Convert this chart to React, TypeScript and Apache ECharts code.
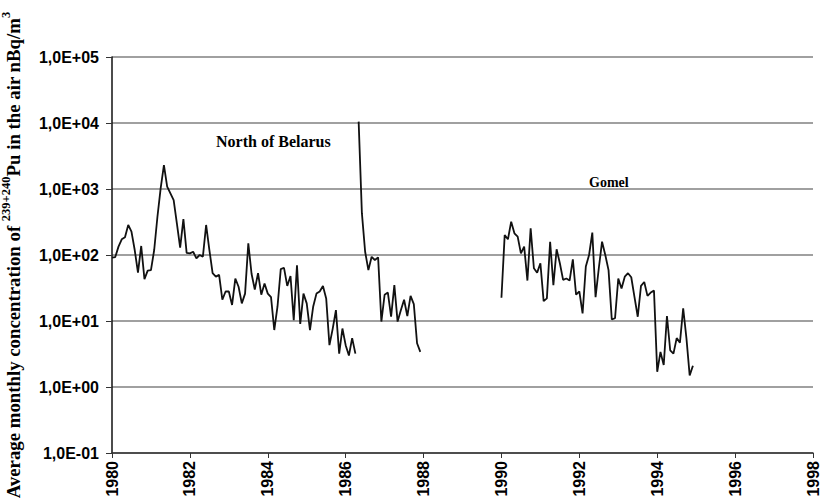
import React, { useEffect, useRef } from "react";
import * as echarts from "echarts";

// Monthly values, index 0 = January of start year/month
const BASE_YEAR = 1980;
const xTicks = [1980, 1982, 1984, 1986, 1988, 1990, 1992, 1994, 1996, 1998];
const yTicks = [0.1, 1, 10, 100, 1000, 10000, 100000];

// North of Belarus, Jan 1980 – Apr 1986
const northStartMonth = 0;
const northValues = [
  91, 93, 134, 173, 186, 285, 226, 119, 54, 137, 43, 58,
  59, 119, 380, 1030, 2300, 1090, 860, 680, 300, 129, 350, 108,
  106, 112, 89, 100, 94, 285, 120, 53, 47, 50, 21, 28,
  28, 17.5, 44, 33, 18.5, 26, 150, 52, 30, 53, 25, 37,
  26, 23, 7.3, 16.6, 61, 64, 34, 48, 10.3, 70, 9, 26,
  18.5, 7.3, 16.6, 26, 28, 34, 22, 4.3, 7.6, 14.6, 3.2, 7.7,
  4.3, 3.0, 5.5, 3.2,
];

// North of Belarus, May 1986 – Dec 1987
const northPostStartMonth = 76;
const northPostValues = [
  10500, 430, 112, 59, 94, 84, 92, 9.8, 25, 27,
  11.6, 35, 9.8, 14.6, 21, 11.9, 24, 18, 4.6, 3.4,
];

// Gomel, Jan 1990 – Dec 1994
const gomelStartMonth = 120;
const gomelValues = [
  22.5, 200, 173, 320, 213, 190, 106, 134, 41, 254, 63, 54,
  75, 20, 22, 159, 35, 122, 75, 42, 44, 41, 86, 25,
  28, 13, 67, 100, 218, 23, 63, 159, 100, 59, 10.6, 11,
  44, 31, 47, 53, 46, 23, 11.6, 34, 39, 24, 27, 29,
  1.7, 3.4, 2.15, 11.9, 3.6, 3.2, 5.5, 4.7, 15.6, 5.5, 1.5, 2.1,
];

const toPoints = (start: number, vals: number[]) =>
  vals.map((v, i) => [BASE_YEAR + (start + i) / 12, v]);

const fmtY = (v: number) => {
  const e = Math.round(Math.log10(v));
  return "1,0E" + (e < 0 ? "-" : "+") + String(Math.abs(e)).padStart(2, "0");
};

export default function App() {
  const ref = useRef<HTMLDivElement>(null);
  useEffect(() => {
    if (!ref.current) return;
    const chart = echarts.init(ref.current, null, { renderer: "svg" });
    const lineStyle = { color: "#111", width: 1.8 };
    const labelFont = {
      fontFamily: "Liberation Sans",
      fontWeight: "bold" as const,
      fontSize: 16,
      color: "#000",
    };
    chart.setOption({
      animation: false,
      backgroundColor: "#fff",
      grid: {
        left: 112,
        right: 17,
        top: 57,
        bottom: 50,
        containLabel: false,
        outerBoundsMode: "none",
      },
      xAxis: {
        type: "value",
        min: xTicks[0],
        max: xTicks[xTicks.length - 1],
        interval: 2,
        axisLine: { show: true, lineStyle: { color: "#333", width: 1.5 } },
        axisTick: { show: true, length: 5, lineStyle: { color: "#333", width: 1 } },
        splitLine: { show: false },
        axisLabel: {
          ...labelFont,
          rotate: 90,
          margin: 8,
          formatter: (v: number) => String(v),
        },
      },
      yAxis: {
        type: "log",
        logBase: 10,
        min: yTicks[0],
        max: yTicks[yTicks.length - 1],
        axisLine: { show: true, lineStyle: { color: "#111", width: 1.5 } },
        axisTick: { show: true, length: 6, lineStyle: { color: "#333", width: 1 } },
        minorTick: { show: false },
        splitLine: { show: true, lineStyle: { color: "#808080", width: 1.5 } },
        axisLabel: { ...labelFont, margin: 13, formatter: fmtY },
        name: "{b|Average monthly concentration of }{s|239+240}{b|Pu in the air nBq/m}{s|3}",
        nameLocation: "middle",
        nameGap: 89,
        nameRotate: 90,
        nameTextStyle: {
          rich: {
            b: {
              fontFamily: "Liberation Serif",
              fontWeight: "bold",
              fontSize: 18.8,
              lineHeight: 24,
              verticalAlign: "bottom",
              color: "#000",
            },
            s: {
              fontFamily: "Liberation Serif",
              fontWeight: "bold",
              fontSize: 12.5,
              lineHeight: 12,
              verticalAlign: "top",
              color: "#000",
            },
          },
        },
      },
      series: [
        {
          name: "North of Belarus",
          type: "line",
          data: toPoints(northStartMonth, northValues),
          showSymbol: false,
          symbol: "none",
          lineStyle,
        },
        {
          name: "North of Belarus (after 1986)",
          type: "line",
          data: toPoints(northPostStartMonth, northPostValues),
          showSymbol: false,
          symbol: "none",
          lineStyle,
        },
        {
          name: "Gomel",
          type: "line",
          data: toPoints(gomelStartMonth, gomelValues),
          showSymbol: false,
          symbol: "none",
          lineStyle,
        },
      ],
      graphic: [
        {
          type: "text",
          left: 216,
          top: 133,
          style: {
            text: "North of Belarus",
            fontFamily: "Liberation Serif",
            fontWeight: "bold",
            fontSize: 16,
            fill: "#000",
          },
        },
        {
          type: "text",
          left: 589,
          top: 175,
          style: {
            text: "Gomel",
            fontFamily: "Liberation Serif",
            fontWeight: "bold",
            fontSize: 14,
            fill: "#000",
          },
        },
      ],
    });
    return () => chart.dispose();
  }, []);
  return (
    <div
      ref={ref}
      style={{ position: "absolute", left: 0, top: 0, width: 830, height: 503 }}
    />
  );
}
